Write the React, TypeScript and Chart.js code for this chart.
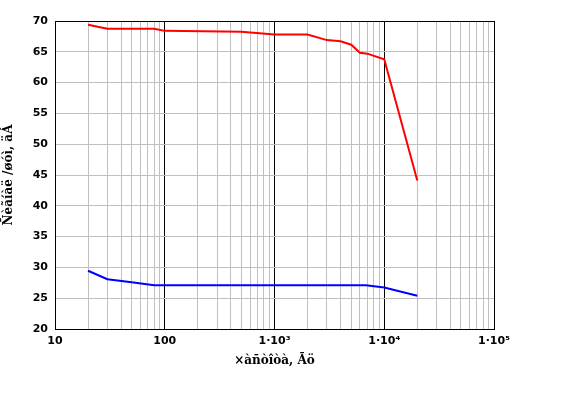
import React, { useEffect, useRef } from "react";
import { Chart, registerables } from "chart.js";

Chart.register(...registerables);

const redFreq = [20, 30, 80, 100, 500, 1000, 2000, 3000, 4000, 5000, 6000, 7000, 10000, 20000];
const redValues = [69.4, 68.75, 68.75, 68.4, 68.25, 67.8, 67.8, 66.9, 66.7, 66.15, 64.85, 64.7, 63.8, 44.1];
const blueFreq = [20, 30, 50, 80, 100, 1000, 6800, 10000, 20000];
const blueValues = [29.46, 28.07, 27.58, 27.1, 27.1, 27.1, 27.1, 26.75, 25.4];
const xTickLabels: Record<number, string> = {
  10: "10",
  100: "100",
  1000: "1\u00B710\u00B3",
  10000: "1\u00B710\u2074",
  100000: "1\u00B710\u2075",
};
const yTicks = [20, 25, 30, 35, 40, 45, 50, 55, 60, 65, 70];
const xTitle = "\u00D7\u00E0\u00F1\u00F2\u00EE\u00F2\u00E0, \u00C3\u00F6";
const yTitle = "\u00D1\u00E8\u00E3\u00ED\u00E0\u00EB /\u00F8\u00F3\u00EC, \u00E4\u00C1";

const isDecade = (v: number) => {
  const l = Math.log10(v);
  return Math.abs(l - Math.round(l)) < 1e-6;
};

export default function App() {
  const ref = useRef<HTMLCanvasElement>(null);
  useEffect(() => {
    const borderPlugin = {
      id: "border",
      afterDatasetsDraw(chart: any) {
        const { ctx, chartArea: a } = chart;
        ctx.save();
        ctx.strokeStyle = "#000";
        ctx.lineWidth = 1;
        ctx.strokeRect(Math.round(a.left) + 0.5, Math.round(a.top) + 0.5, Math.round(a.right - a.left), Math.round(a.bottom - a.top));
        ctx.restore();
      },
    };
    const chart = new Chart(ref.current!, {
      type: "line",
      data: {
        datasets: [
          {
            data: redFreq.map((f, i) => ({ x: f, y: redValues[i] })),
            borderColor: "#ff0000",
            borderWidth: 2,
            pointRadius: 0,
            tension: 0,
          },
          {
            data: blueFreq.map((f, i) => ({ x: f, y: blueValues[i] })),
            borderColor: "#0000ff",
            borderWidth: 2,
            pointRadius: 0,
            tension: 0,
          },
        ],
      },
      options: {
        animation: false,
        responsive: false,
        maintainAspectRatio: false,
        layout: { padding: { top: 21, right: 71, left: 2, bottom: 26 } },
        plugins: { legend: { display: false }, tooltip: { enabled: false } },
        scales: {
          x: {
            type: "logarithmic",
            min: 10,
            max: 100000,
            afterBuildTicks(scale: any) {
              const t: any[] = [];
              for (let d = 10; d < 100000; d *= 10) {
                for (let k = 1; k < 10; k++) t.push({ value: d * k });
              }
              t.push({ value: 100000 });
              scale.ticks = t;
            },
            afterFit(scale: any) {
              scale.height = 39;
            },
            ticks: {
              autoSkip: false,
              maxRotation: 0,
              color: "#000",
              padding: 6,
              font: { family: "'DejaVu Sans'", size: 11, weight: "bold" },
              callback: (v: any) => (isDecade(Number(v)) ? xTickLabels[Math.round(Number(v))] : ""),
            },
            grid: {
              color: (c: any) => (c.tick && isDecade(c.tick.value) ? "#000" : "#c0c0c0"),
              lineWidth: 1,
              drawTicks: false,
            },
            border: { display: false },
            title: {
              display: true,
              text: xTitle,
              color: "#000",
              font: { family: "'DejaVu Serif'", size: 12, weight: "bold" },
              padding: { top: 0, bottom: 0 },
            },
          },
          y: {
            min: 20,
            max: 70,
            afterBuildTicks(scale: any) {
              scale.ticks = yTicks.map((v) => ({ value: v }));
            },
            afterFit(scale: any) {
              scale.width = 53;
            },
            ticks: {
              color: "#000",
              padding: 7,
              font: { family: "'DejaVu Sans'", size: 11, weight: "bold" },
            },
            grid: { color: "#c0c0c0", lineWidth: 1, drawTicks: false },
            border: { display: false },
            title: {
              display: true,
              text: yTitle,
              color: "#000",
              font: { family: "'DejaVu Serif'", size: 12, weight: "bold" },
              padding: { top: 0, bottom: 0 },
            },
          },
        },
      } as any,
      plugins: [borderPlugin],
    });
    return () => chart.destroy();
  }, []);
  return (
    <div style={{ position: "fixed", left: 0, top: 0, width: 565, height: 394, background: "#fff" }}>
      <canvas ref={ref} width={565} height={394} style={{ width: 565, height: 394 }} />
    </div>
  );
}
